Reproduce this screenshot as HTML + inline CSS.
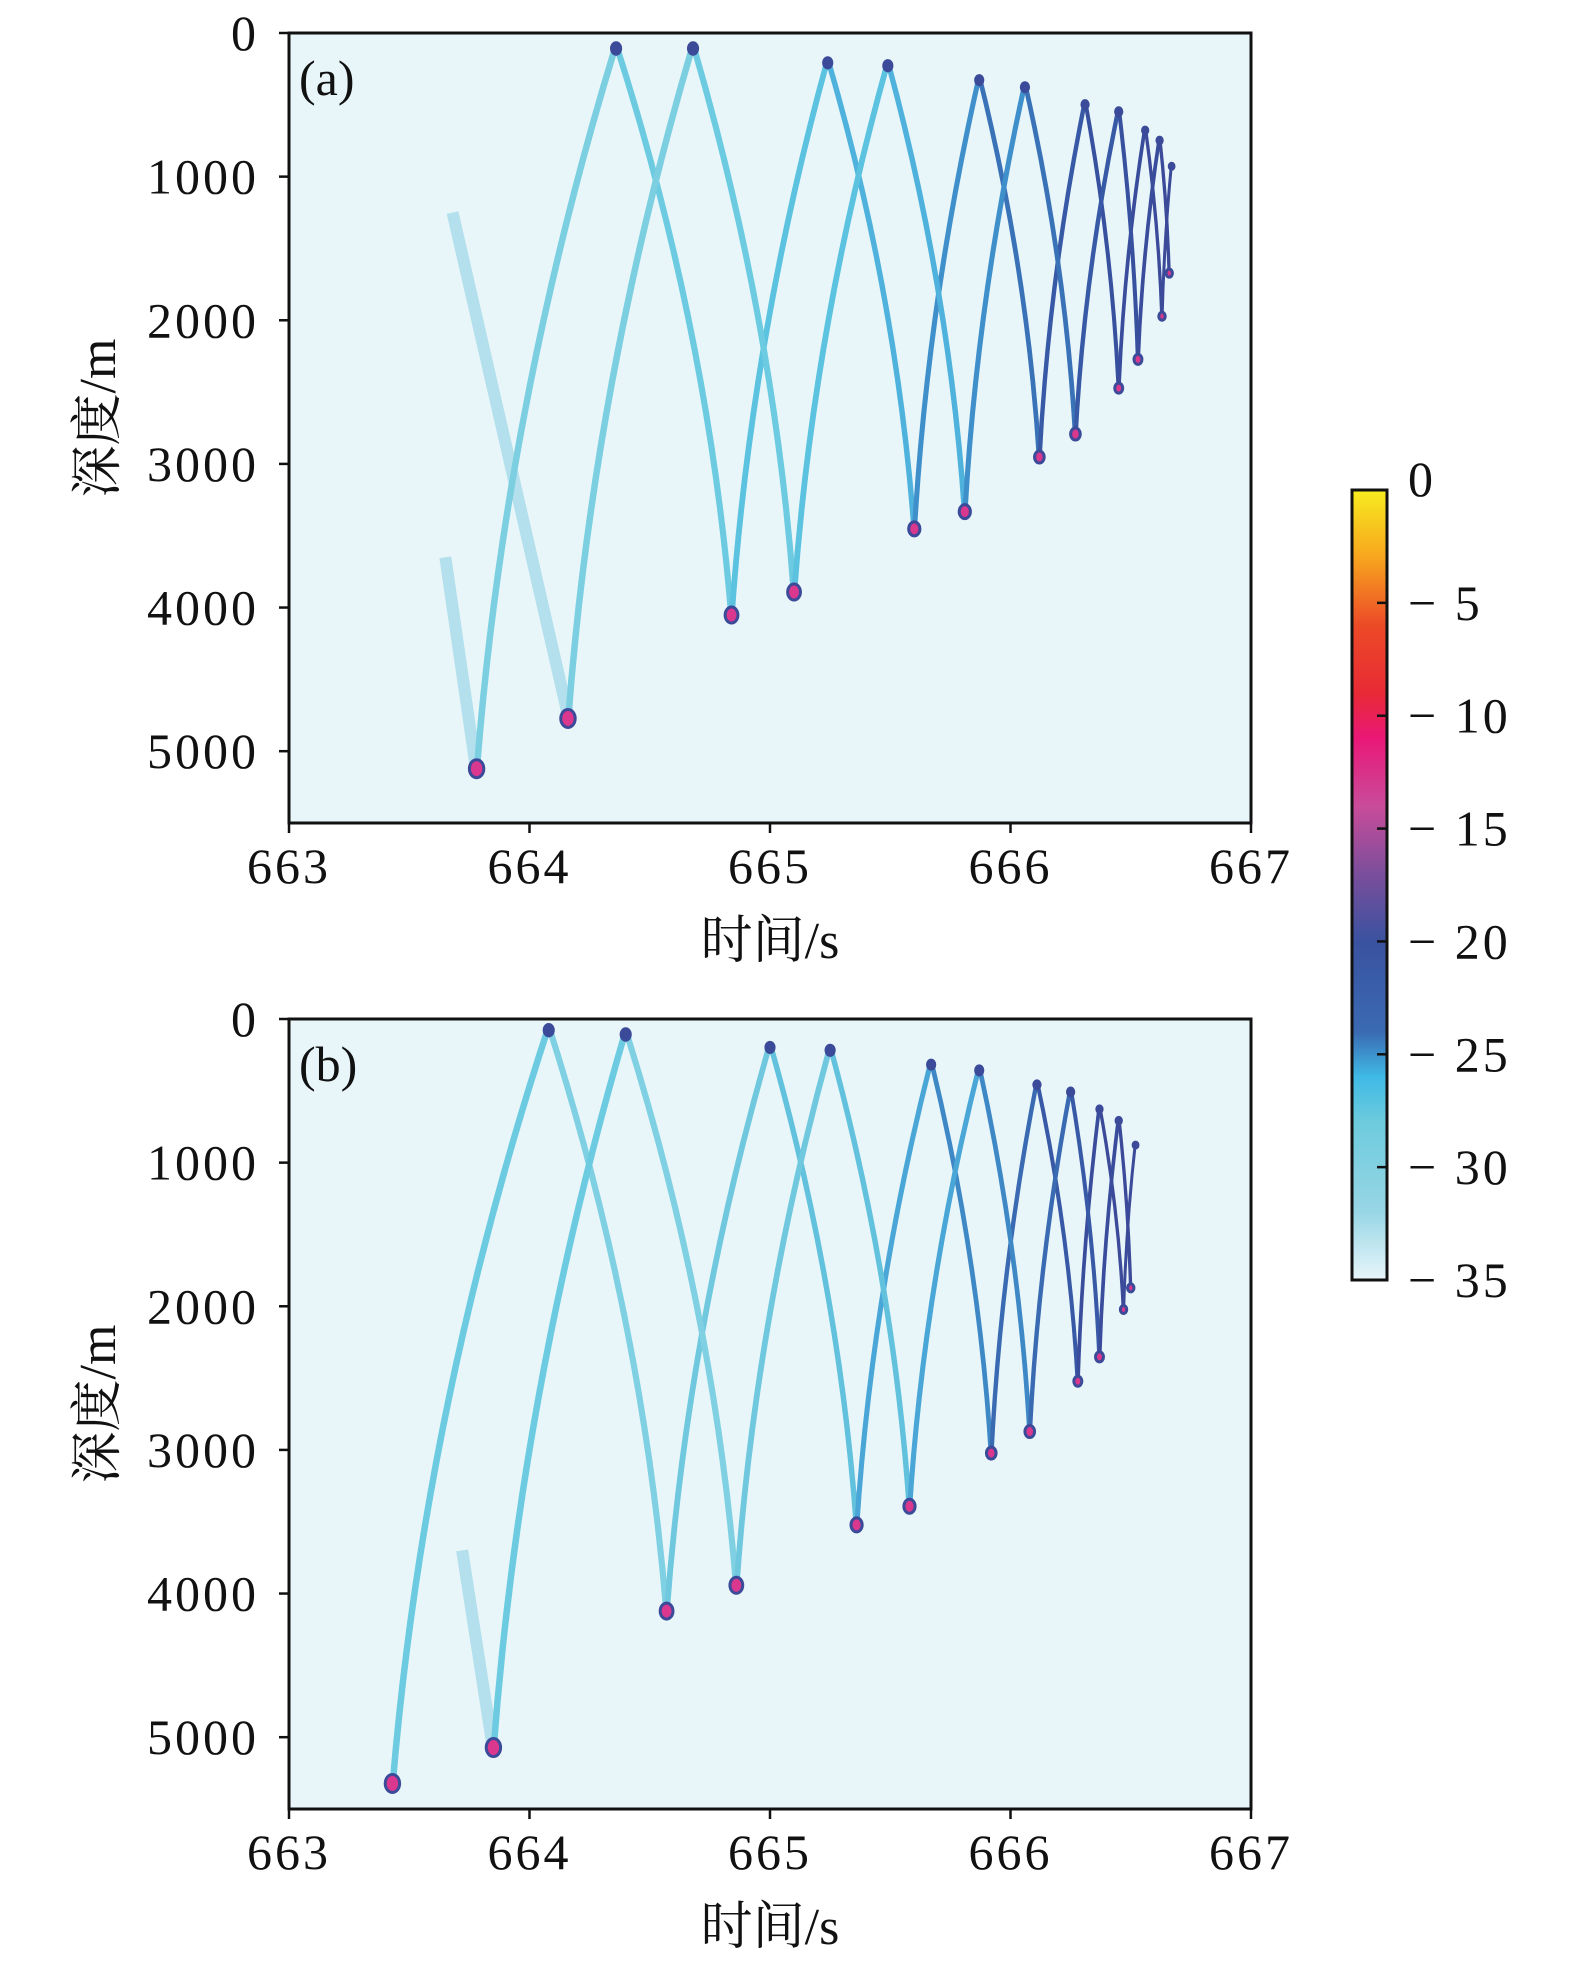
<!DOCTYPE html>
<html><head><meta charset="utf-8">
<style>
html,body{margin:0;padding:0;background:#fff;}
svg{display:block;}
text{font-family:"Liberation Serif","Noto Serif CJK SC",serif;fill:#111;}
</style></head>
<body>
<svg id="fig" width="1575" height="1969" viewBox="0 0 1575 1969" xmlns="http://www.w3.org/2000/svg">
<g id="pa"></g>
<g id="pb"></g>
<g id="cb"></g>
</svg>
<script>
const xTicks=[663,664,665,666,667];
const yTicks=[0,1000,2000,3000,4000,5000];
const cbTicks=[0,-5,-10,-15,-20,-25,-30,-35];
// panel a ray chains: times (s) and depths (m)
const a1T=[663.78,664.36,664.84,665.24,665.60,665.87,666.12,666.31,666.45,666.56,666.63,666.67];
const a1D=[5150,80,4080,180,3480,300,2980,470,2500,650,2000,900];
const a2T=[664.16,664.68,665.10,665.49,665.81,666.06,666.27,666.45,666.53,666.62,666.66];
const a2D=[4800,80,3920,200,3360,350,2820,520,2300,720,1700];
const a3T=[663.68,664.16];const a3D=[1250,4750];
const a4T=[663.65,663.78];const a4D=[3650,5150];
// panel b
const b1T=[663.43,664.08,664.57,665.00,665.36,665.67,665.92,666.11,666.28,666.37,666.47,666.52];
const b1D=[5350,50,4150,170,3550,290,3050,430,2550,600,2050,850];
const b2T=[663.85,664.40,664.86,665.25,665.58,665.87,666.08,666.25,666.37,666.45,666.50];
const b2D=[5100,80,3970,190,3420,330,2900,480,2380,680,1900];
const b3T=[663.72,663.85];const b3D=[3700,5100];

const NS="http://www.w3.org/2000/svg";
function el(tag,attrs,parent){const e=document.createElementNS(NS,tag);for(const k in attrs)e.setAttribute(k,attrs[k]);parent.appendChild(e);return e;}
const X0=289,X1=1251;
const colsA=['#7ccfe0','#6ccbe0','#5bc2df','#4fb2dc','#3f8fcb','#3a72b8','#3859a6','#37519f','#3a4d9c','#3b4a99','#3b4a99','#3b4a99'];
const colsB=['#6ccbe0','#7fd0e2','#6fc8de','#62c1dc','#4aa6d6','#3f88c6','#3a6ab2','#3859a6','#3a4d9c','#3b4a99','#3b4a99','#3b4a99'];
function panel(g,top,bot,label,chains,faint,cols){
  const sx=t=>X0+(t-663)/4*(X1-X0);
  const sy=d=>top+d/5500*(bot-top);
  const bg=el('rect',{x:X0,y:top,width:X1-X0,height:bot-top,fill:'#e8f6f9'},g);
  
  
  faint.forEach(([T,D])=>{
    const p=el('line',{x1:sx(T[0]),y1:sy(D[0]),x2:sx(T[1]),y2:sy(D[1]),stroke:'#b3e0ec','stroke-width':12},g);
    
    
  });
  chains.forEach(([T,D],ci)=>{
    for(let i=0;i<T.length-1;i++){
      const xa=sx(T[i]),ya=sy(D[i]),xb=sx(T[i+1]),yb=sy(D[i+1]);
      const bx=ya>yb?xa:xb, by=Math.max(ya,yb), tx=ya>yb?xb:xa, ty=Math.min(ya,yb);
      const cx=bx+(tx-bx)*0.2, cy=by-(by-ty)*0.5;
      const w=Math.max(3,6.5-i*0.35);
      const p=el('path',{d:`M${bx},${by} Q${cx},${cy} ${tx},${ty}`,fill:'none',stroke:cols[Math.min(i,cols.length-1)],'stroke-width':w},g);
      
      
    }
    T.forEach((t,i)=>{
      const deep=D[i]>1500;
      const r=deep?Math.max(4,9-i*0.5):Math.max(3,6-i*0.3);
      const c=el('ellipse',{cx:sx(t),cy:sy(D[i])+(deep?-4:4),rx:r*0.8,ry:r,fill:deep?'#d9388e':'#3b4a99',stroke:'#3b4a99','stroke-width':3},g);
      
      
    });
  });
  const fr=el('rect',{x:X0,y:top,width:X1-X0,height:bot-top,fill:'none',stroke:'#111','stroke-width':3},g);
  
  
  xTicks.forEach(t=>{
    el('line',{x1:sx(t),y1:bot,x2:sx(t),y2:bot+10,stroke:'#111','stroke-width':2.5},g);
    const tx=el('text',{x:sx(t),y:bot+60,'font-size':50,'letter-spacing':3,'text-anchor':'middle'},g);
    tx.textContent=t;
    
    
  });
  yTicks.forEach(d=>{
    el('line',{x1:X0-10,y1:sy(d),x2:X0,y2:sy(d),stroke:'#111','stroke-width':2.5},g);
    const tx=el('text',{x:X0-30,y:sy(d)+17,'font-size':50,'letter-spacing':3,'text-anchor':'end'},g);
    tx.textContent=d;
    
    
  });
  const xl=el('text',{x:770,y:bot+135,'font-size':52,'text-anchor':'middle'},g);
  xl.textContent='时间/s';
  
  
  const cy=(top+bot)/2-10;
  const yl=el('text',{x:0,y:0,'font-size':52,'text-anchor':'middle',transform:`translate(115,${cy}) rotate(-90)`},g);
  yl.textContent='深度/m';
  
  
  const pl=el('text',{x:299,y:top+62,'font-size':50},g);
  pl.textContent=label;
  
  
}
panel(document.getElementById('pa'),33,823,'(a)',[[a1T,a1D],[a2T,a2D]],[[a3T,a3D],[a4T,a4D]],colsA);
panel(document.getElementById('pb'),1019,1809,'(b)',[[b1T,b1D],[b2T,b2D]],[[b3T,b3D]],colsB);

// colorbar
const cb=document.getElementById('cb');
const CX=1352,CW=35,CT=490,CB=1280;
const stops=[[0,'#f7ec1f'],[3,'#f7a51e'],[6,'#ec4a27'],[9,'#e82a35'],[11,'#ea1777'],[14,'#c94c9a'],[17,'#7b4e9b'],[20,'#3a52a0'],[24,'#3a6ab2'],[26,'#3fbae6'],[28,'#6ccbdc'],[32,'#98d6e6'],[35,'#e8f6fa']];
const defs=el('defs',{},cb);
const lg=el('linearGradient',{id:'cbg',x1:0,y1:0,x2:0,y2:1},defs);
stops.forEach(([v,c])=>el('stop',{offset:v/35,'stop-color':c},lg));
const bar=el('rect',{x:CX,y:CT,width:CW,height:CB-CT,fill:'url(#cbg)',stroke:'#111','stroke-width':3},cb);


cbTicks.forEach(v=>{
  const y=CT+(-v)/35*(CB-CT);
  if(v!==0&&v!==-35)el('line',{x1:CX+CW-10,y1:y,x2:CX+CW,y2:y,stroke:'#111','stroke-width':2.5},cb);
  const t=el('text',{x:1408,y:y+(v===0?6:17),'font-size':50,'letter-spacing':3},cb);
  t.textContent=v===0?'0':'\u2212 '+(-v);
  
  
});
</script>
</body></html>
